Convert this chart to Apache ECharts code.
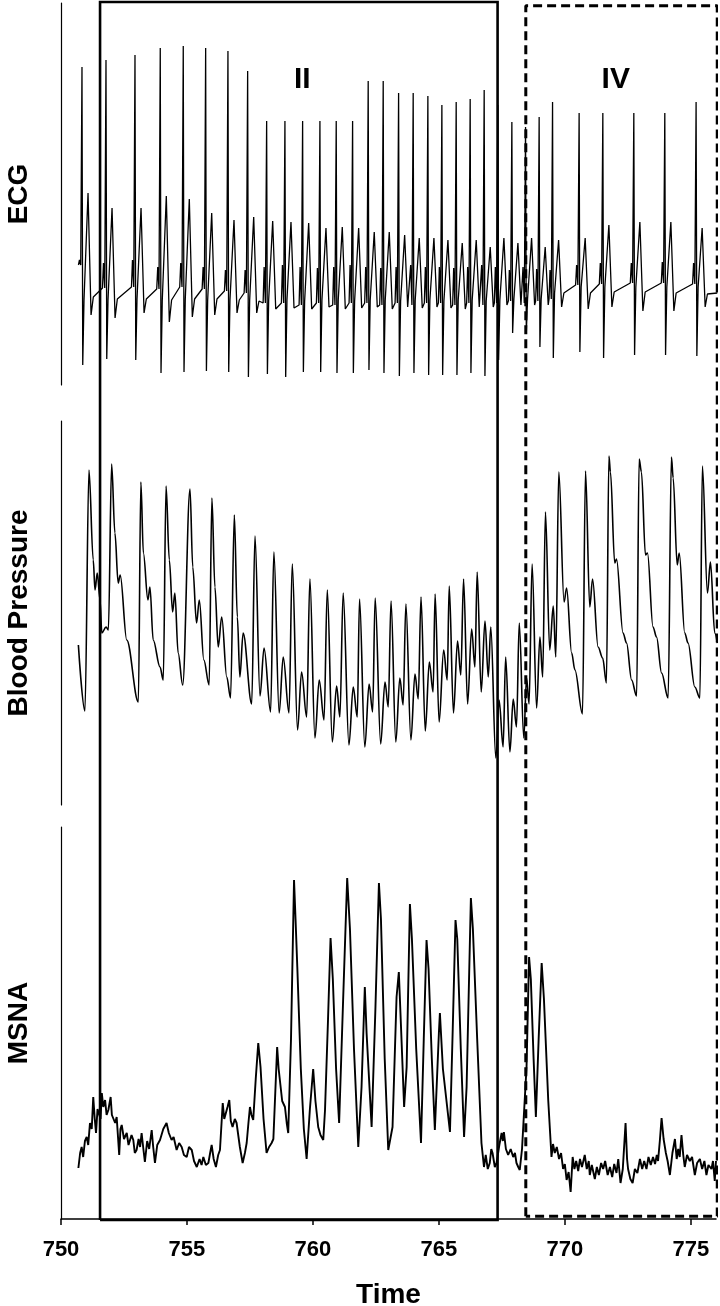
<!DOCTYPE html>
<html><head><meta charset="utf-8">
<script src="https://cdn.jsdelivr.net/npm/echarts@6/dist/echarts.min.js"></script>
<style>html,body{margin:0;padding:0;background:#fff}#c{width:720px;height:1306px}</style>
</head><body><div id="c"></div>
<script>
// ---------- data (time in s, signal amplitudes in arbitrary units) ----------
const timeRange = [750, 776];
const timeTicks = [750, 755, 760, 765, 770, 775];
const panelLabels = ['ECG', 'Blood Pressure', 'MSNA'];
const phaseII = { label: 'II', range: [751.55, 767.33], labelAt: [759.58, 0.936] };
const phaseIV = { label: 'IV', range: [768.45, 776.05], labelAt: [772.02, 0.936] };

// ECG: per-beat readings
const ecgRTime = [750.833,751.786,752.937,753.940,754.853,755.742,756.627,757.409,758.163,758.889,759.591,760.278,760.925,761.575,762.194,762.790,763.401,763.980,764.563,765.119,765.687,766.242,766.798,767.341,767.897,768.440,768.980,769.512,770.567,771.508,772.738,773.968,775.210];
const ecgR = [318,325,330,337,339,337,334,314,264,264,264,264,264,264,304,304,292,292,289,280,283,286,295,280,263,258,268,283,272,272,272,272,283];
const ecgS = [20,26,25,12,13,14,13,8,11,8,13,13,12,12,15,12,9,12,10,10,10,12,9,25,52,52,38,27,33,27,30,30,29];
const ecgT = [192,177,177,189,186,172,165,168,164,163,162,157,158,157,153,153,150,147,147,145,142,145,138,147,142,147,138,145,147,160,163,163,157];
const ecgP = [125,122,125,118,122,118,115,115,118,120,118,117,118,120,118,117,118,120,118,118,117,118,120,118,115,118,116,115,120,122,122,123,122];
const ecgB = [120,97,98,96,98,96,94,92,82,82,80,82,80,82,82,80,82,80,82,82,80,82,80,82,84,82,84,86,100,101,102,102,101];
const ecgJ = [85,85,86,85,86,85,85,85,85,85,84,85,85,84,85,85,84,85,85,84,85,85,84,85,86,86,86,92,98,98,98,98,98];
const ecgU = [70,67,72,63,68,70,72,72,76,77,76,78,76,77,78,76,78,77,78,77,76,78,78,80,80,80,80,78,76,78,74,74,78];
const ecgRecovery = [88,86,86,85,86,86,85,84,null,null,null,null,null,null,null,null,null,null,null,null,null,null,null,null,null,null,null,92,92,93,93,92,91];
const ecgTail = [[776.05, 92]];

// Blood pressure trace [time, value]
const bloodPressure = [[750.69,160],[750.95,94],[751.11,335],[751.28,245],[751.35,215],[751.44,232],[751.55,205],[751.62,172],[751.79,178],[751.88,175],[752.01,341],[752.14,272],[752.27,222],[752.35,230],[752.61,165],[753.07,103],[753.17,323],[753.27,252],[753.45,205],[753.53,218],[753.66,165],[753.93,138],[754.06,125],[754.17,319],[754.30,245],[754.43,193],[754.52,212],[754.65,152],[754.83,120],[755.12,316],[755.23,238],[755.38,182],[755.49,205],[755.67,145],[755.88,120],[755.99,307],[756.11,218],[756.24,158],[756.38,188],[756.58,128],[756.73,107],[756.88,290],[757.00,188],[757.10,128],[757.23,172],[757.57,101],[757.70,269],[757.90,109],[758.06,157],[758.32,93],[758.45,253],[758.66,92],[758.82,148],[759.05,92],[759.18,241],[759.39,75],[759.55,133],[759.75,88],[759.88,226],[760.08,67],[760.25,125],[760.44,85],[760.57,215],[760.77,63],[760.94,119],[761.07,88],[761.20,212],[761.43,60],[761.60,118],[761.76,88],[761.85,206],[762.06,58],[762.23,121],[762.37,93],[762.47,207],[762.69,61],[762.86,123],[762.99,98],[763.10,204],[763.29,63],[763.45,127],[763.58,100],[763.69,201],[763.89,65],[764.05,131],[764.18,106],[764.29,208],[764.46,74],[764.62,143],[764.77,113],[764.85,211],[765.01,83],[765.19,155],[765.33,125],[765.41,219],[765.58,92],[765.74,164],[765.87,130],[765.98,226],[766.14,101],[766.30,176],[766.43,138],[766.52,233],[766.68,113],[766.83,184],[766.96,128],[767.06,178],[767.26,47],[767.39,105],[767.55,58],[767.65,148],[767.82,53],[767.95,106],[768.08,78],[768.19,182],[768.37,67],[768.48,127],[768.58,101],[768.70,241],[768.88,97],[769.01,168],[769.12,128],[769.23,293],[769.40,155],[769.54,199],[769.64,148],[769.76,333],[769.97,203],[770.07,217],[770.27,152],[770.40,135],[770.70,91],[770.82,334],[770.99,198],[771.10,226],[771.32,158],[771.50,147],[771.65,122],[771.75,349],[771.81,333],[771.98,242],[772.05,246],[772.31,172],[772.45,162],[772.65,125],[772.85,109],[772.95,346],[773.04,333],[773.20,250],[773.28,252],[773.50,178],[773.64,168],[773.84,132],[774.10,107],[774.23,348],[774.30,327],[774.46,240],[774.54,252],[774.76,172],[774.89,162],[775.16,118],[775.36,107],[775.46,339],[775.66,212],[775.78,243],[775.95,172],[776.05,162]];

// MSNA trace [time, value]
const msna = [[750.69,51],[750.76,66],[750.82,72],[750.88,62],[750.95,78],[751.02,82],[751.08,74],[751.15,96],[751.22,90],[751.28,122],[751.34,100],[751.39,86],[751.45,110],[751.52,112],[751.57,100],[751.62,126],[751.68,112],[751.75,119],[751.81,104],[751.88,109],[751.97,122],[752.02,104],[752.08,106],[752.15,96],[752.21,102],[752.31,64],[752.36,90],[752.41,94],[752.50,80],[752.61,86],[752.68,74],[752.74,72],[752.80,84],[752.87,79],[752.93,66],[753.00,69],[753.08,80],[753.14,72],[753.20,86],[753.27,70],[753.33,57],[753.42,78],[753.50,70],[753.60,89],[753.66,72],[753.73,56],[753.82,74],[753.93,79],[754.06,90],[754.19,96],[754.28,86],[754.39,79],[754.47,82],[754.59,69],[754.69,76],[754.79,72],[754.88,64],[754.99,62],[755.08,72],[755.19,69],[755.28,58],[755.39,52],[755.50,60],[755.58,54],[755.65,62],[755.75,54],[755.85,56],[755.92,66],[755.98,74],[756.06,60],[756.15,52],[756.24,64],[756.31,69],[756.42,116],[756.48,100],[756.55,102],[756.61,112],[756.68,119],[756.74,98],[756.81,92],[756.90,100],[756.97,96],[757.10,72],[757.21,56],[757.30,66],[757.37,76],[757.44,96],[757.50,112],[757.56,104],[757.63,99],[757.73,140],[757.83,176],[757.92,152],[758.04,100],[758.16,66],[758.26,72],[758.36,76],[758.43,80],[758.49,82],[758.58,172],[758.64,150],[758.69,149],[758.78,118],[758.89,112],[758.96,96],[759.02,86],[759.13,180],[759.25,339],[759.31,300],[759.38,252],[759.52,150],[759.64,90],[759.75,60],[759.88,110],[760.01,150],[760.10,118],[760.21,92],[760.30,84],[760.41,79],[760.48,109],[760.60,200],[760.70,281],[760.79,240],[760.92,150],[761.04,96],[761.20,220],[761.36,341],[761.47,290],[761.63,170],[761.80,72],[761.93,132],[762.06,232],[762.13,186],[762.33,92],[762.48,210],[762.62,336],[762.70,300],[762.85,160],[762.99,69],[763.16,92],[763.32,222],[763.41,247],[763.50,190],[763.62,112],[763.72,152],[763.85,315],[763.93,280],[764.10,170],[764.29,76],[764.40,180],[764.51,279],[764.59,250],[764.72,160],[764.84,89],[765.00,186],[765.04,206],[765.16,150],[765.44,87],[765.55,190],[765.66,299],[765.73,280],[765.87,170],[766.00,82],[766.10,132],[766.27,321],[766.35,290],[766.52,180],[766.69,76],[766.79,52],[766.86,64],[766.94,50],[767.02,56],[767.08,70],[767.13,66],[767.22,52],[767.29,56],[767.40,74],[767.49,86],[767.54,78],[767.58,87],[767.66,70],[767.75,64],[767.85,70],[767.95,62],[768.02,66],[768.08,56],[768.15,52],[768.21,49],[768.30,70],[768.37,102],[768.48,152],[768.58,262],[768.65,240],[768.76,160],[768.85,102],[768.96,180],[769.08,256],[769.17,220],[769.34,119],[769.47,62],[769.53,75],[769.60,66],[769.68,72],[769.77,60],[769.85,66],[769.93,50],[770.00,55],[770.07,39],[770.15,47],[770.23,27],[770.31,62],[770.38,50],[770.45,58],[770.53,48],[770.60,60],[770.68,52],[770.79,64],[770.87,50],[770.95,58],[770.99,44],[771.07,54],[771.19,40],[771.27,52],[771.35,44],[771.44,56],[771.52,50],[771.60,58],[771.70,44],[771.79,52],[771.88,42],[771.96,55],[772.05,46],[772.12,60],[772.21,36],[772.30,50],[772.41,96],[772.47,60],[772.51,50],[772.60,40],[772.69,36],[772.78,50],[772.88,46],[772.98,60],[773.07,50],[773.15,58],[773.24,50],[773.32,62],[773.41,54],[773.50,62],[773.58,55],[773.65,64],[773.70,58],[773.77,78],[773.84,101],[773.92,80],[774.01,66],[774.08,58],[774.17,44],[774.27,66],[774.37,80],[774.44,60],[774.50,70],[774.56,62],[774.63,84],[774.70,64],[774.76,52],[774.85,64],[774.96,58],[775.05,62],[775.16,44],[775.25,56],[775.36,60],[775.45,50],[775.54,58],[775.62,44],[775.70,54],[775.82,50],[775.88,58],[775.95,38],[776.0,58]];

// ---------- build ----------
const ecg = [];
ecgRTime.forEach((r, i) => {
  ecg.push([r - 0.14, ecgB[i]], [r - 0.10, ecgP[i]], [r - 0.05, ecgB[i]], [r, ecgR[i]],
           [r + 0.03, ecgS[i]], [r + 0.08, ecgJ[i]], [r + 0.24, ecgT[i]], [r + 0.36, ecgU[i]]);
  if (ecgRecovery[i] !== null) ecg.push([r + 0.45, ecgRecovery[i]]);
});
ecg.push(...ecgTail);

function boxPath(range, lo, hi) {
  return [[range[0], lo], [range[0], hi], [range[1], hi], [range[1], lo], [range[0], lo]];
}

const FONT = '"Liberation Sans", Arial, Helvetica, sans-serif';
const chart = echarts.init(document.getElementById('c'), null, { renderer: 'canvas' });

const grids = [
  { left: 61, right: 4, top: 3, height: 382, outerBoundsMode: 'none', containLabel: false },
  { left: 61, right: 4, top: 421, height: 384, outerBoundsMode: 'none', containLabel: false },
  { left: 61, right: 4, top: 827, height: 392, outerBoundsMode: 'none', containLabel: false },
  { left: 61, right: 4, top: 2, bottom: 86, outerBoundsMode: 'none', containLabel: false }
];
const yMax = [382, 384, 392];

const xAxes = grids.map((g, i) => ({
  type: 'value', gridIndex: i, min: timeRange[0], max: timeRange[1],
  show: i === 2, interval: 5,
  axisLine: { show: true, onZero: false, lineStyle: { color: '#000', width: 1.5 } },
  axisTick: { show: true, length: 6, customValues: timeTicks, lineStyle: { color: '#000', width: 1.5 } },
  axisLabel: { customValues: timeTicks, fontSize: 22, fontWeight: 'bold', color: '#000', margin: 20, fontFamily: FONT },
  splitLine: { show: false },
  name: i === 2 ? 'Time' : '', nameLocation: 'middle', nameGap: 62,
  nameTextStyle: { fontSize: 28, fontWeight: 'bold', color: '#000', fontFamily: FONT }
}));

const yAxes = grids.map((g, i) => i < 3 ? ({
  type: 'value', gridIndex: i, min: 0, max: yMax[i],
  axisLine: { show: true, onZero: false, lineStyle: { color: '#000', width: 1.2 } },
  axisTick: { show: false }, axisLabel: { show: false }, splitLine: { show: false },
  name: panelLabels[i], nameLocation: 'middle', nameGap: 28,
  nameTextStyle: { fontSize: 28, fontWeight: 'bold', color: '#000', fontFamily: FONT }
}) : ({ type: 'value', gridIndex: 3, min: 0, max: 1, show: false }));

const lineBase = { type: 'line', showSymbol: false, symbol: 'none', animation: false };

chart.setOption({
  animation: false,
  backgroundColor: '#fff',
  grid: grids,
  xAxis: xAxes,
  yAxis: yAxes,
  series: [
    Object.assign({}, lineBase, { name: 'ECG', xAxisIndex: 0, yAxisIndex: 0, data: ecg,
      lineStyle: { color: '#000', width: 1.3 } }),
    Object.assign({}, lineBase, { name: 'Blood Pressure', xAxisIndex: 1, yAxisIndex: 1, data: bloodPressure,
      smooth: 0.35, smoothMonotone: 'x', lineStyle: { color: '#000', width: 1.6 } }),
    Object.assign({}, lineBase, { name: 'MSNA', xAxisIndex: 2, yAxisIndex: 2, data: msna,
      lineStyle: { color: '#000', width: 1.9 } }),
    Object.assign({}, lineBase, { name: 'Phase II', xAxisIndex: 3, yAxisIndex: 3, z: 10, clip: false,
      data: boxPath(phaseII.range, 0, 1), lineStyle: { color: '#000', width: 2.6, join: 'miter' } }),
    Object.assign({}, lineBase, { name: 'Phase IV', xAxisIndex: 3, yAxisIndex: 3, z: 10, clip: false,
      data: boxPath(phaseIV.range, 0.003, 0.997), lineStyle: { color: '#000', width: 3, type: [9, 5] } }),
    { type: 'scatter', xAxisIndex: 3, yAxisIndex: 3, symbolSize: 0, itemStyle: { color: '#000', opacity: 1 },
      z: 11, silent: true,
      data: [phaseII, phaseIV].map(p => ({ value: p.labelAt, name: p.label })),
      label: { show: true, position: 'inside', formatter: p => p.name, opacity: 1,
        fontSize: 30, fontWeight: 'bold', color: '#000', textBorderWidth: 0, fontFamily: FONT } }
  ]
});
</script>
</body></html>
